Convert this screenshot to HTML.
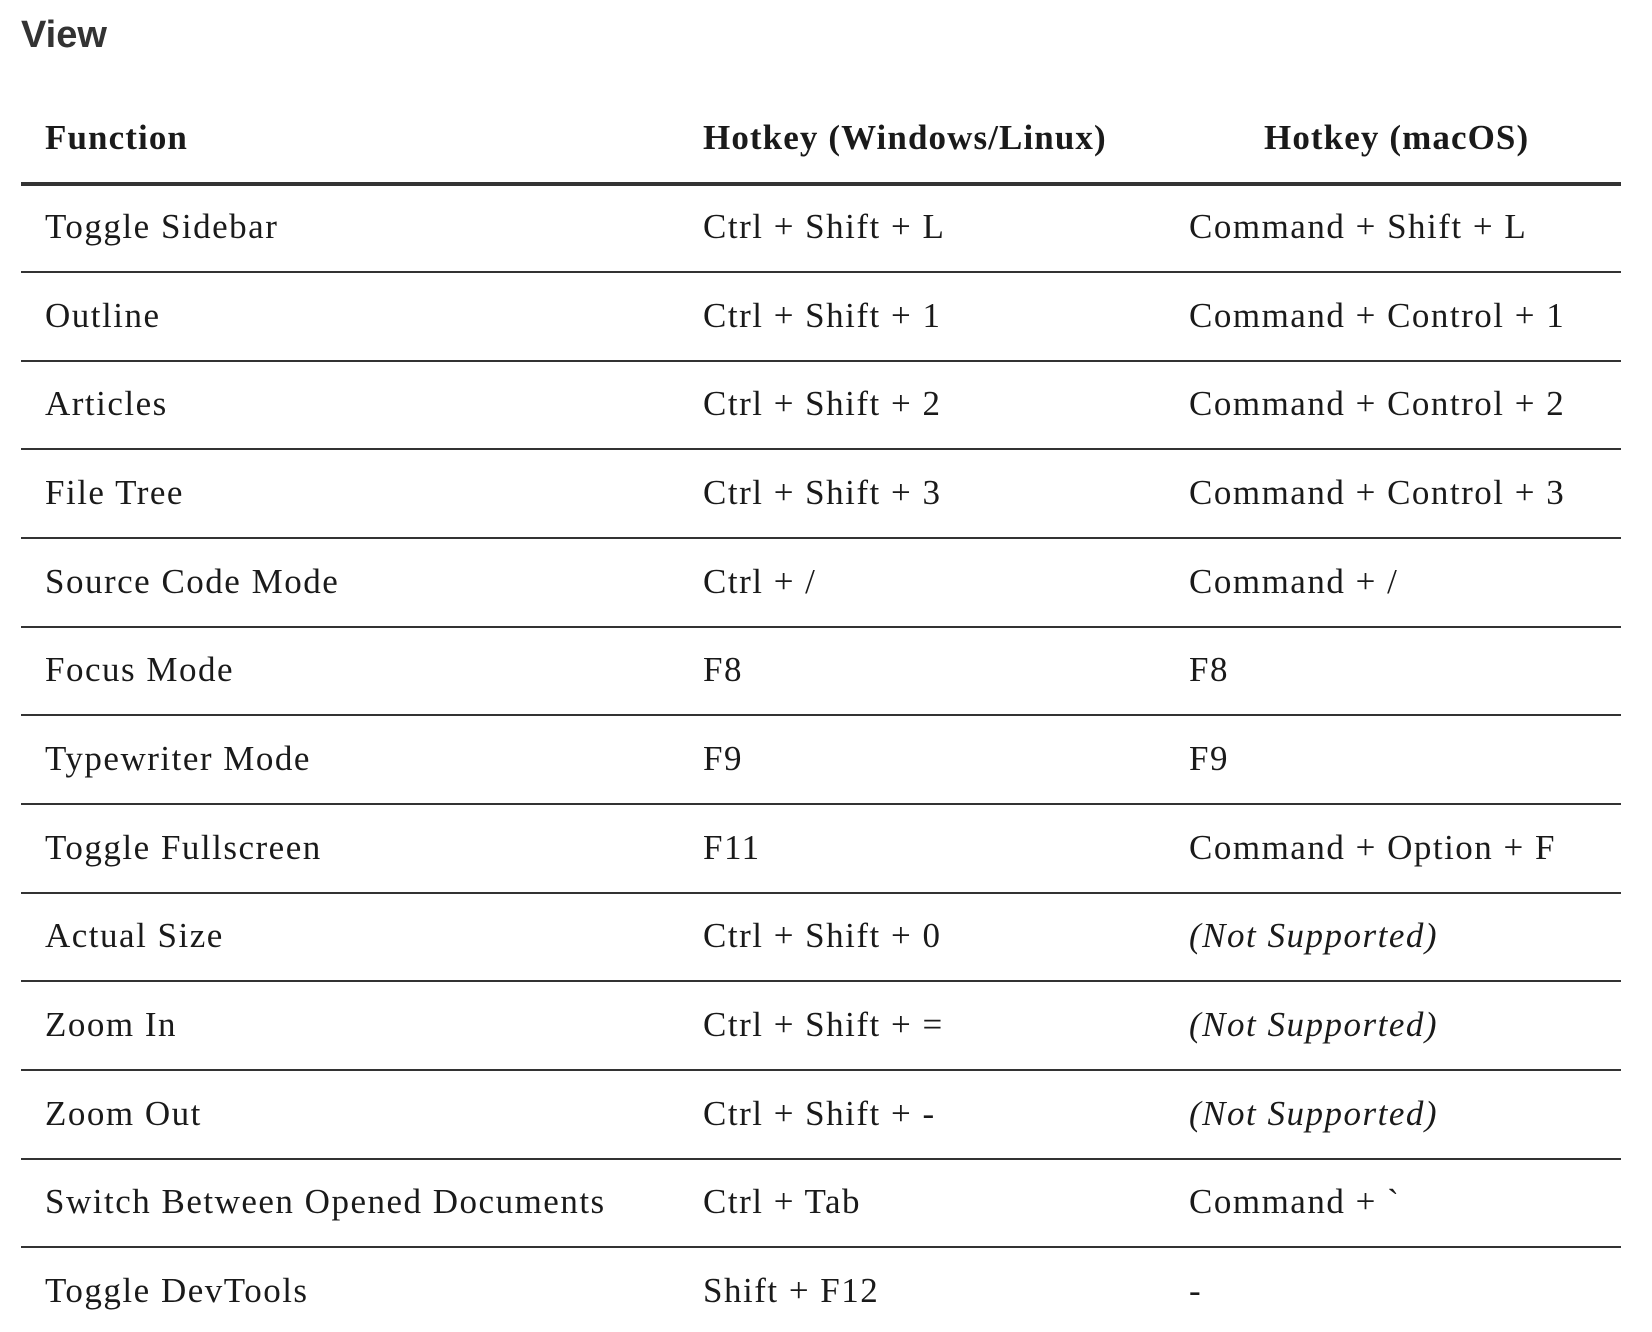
<!DOCTYPE html>
<html><head><meta charset="utf-8"><style>
html,body{margin:0;padding:0;background:#fff;}
body{width:1652px;height:1332px;position:relative;overflow:hidden;font-family:"Liberation Serif",serif;color:#1a1a1a;}
.t{position:absolute;left:21px;top:14px;font-family:"Liberation Sans",sans-serif;font-weight:bold;font-size:38px;color:#333;}
.ln{position:absolute;left:21px;width:1600px;height:2px;background:#333;}
.c{position:absolute;font-size:35px;letter-spacing:1.5px;white-space:nowrap;line-height:40px;}
.h{font-weight:bold;font-size:35px;letter-spacing:1.1px;}
.a{left:45px}.b{left:703px}.d{left:1189px}
i{font-style:italic;}
</style></head><body>
<div class="t">View</div>
<div class="c h a" style="top:118px">Function</div>
<div class="c h b" style="top:118px">Hotkey (Windows/Linux)</div>
<div class="c h" style="left:1264px;top:118px">Hotkey (macOS)</div>
<div class="ln" style="top:182px;height:4px"></div>

<div class="c a" style="top:207px">Toggle Sidebar</div><div class="c b" style="top:207px">Ctrl + Shift + L</div><div class="c d" style="top:207px">Command + Shift + L</div>
<div class="ln" style="top:271px"></div>
<div class="c a" style="top:296px">Outline</div><div class="c b" style="top:296px">Ctrl + Shift + 1</div><div class="c d" style="top:296px">Command + Control + 1</div>
<div class="ln" style="top:360px"></div>
<div class="c a" style="top:384px">Articles</div><div class="c b" style="top:384px">Ctrl + Shift + 2</div><div class="c d" style="top:384px">Command + Control + 2</div>
<div class="ln" style="top:448px"></div>
<div class="c a" style="top:473px">File Tree</div><div class="c b" style="top:473px">Ctrl + Shift + 3</div><div class="c d" style="top:473px">Command + Control + 3</div>
<div class="ln" style="top:537px"></div>
<div class="c a" style="top:562px">Source Code Mode</div><div class="c b" style="top:562px">Ctrl + /</div><div class="c d" style="top:562px">Command + /</div>
<div class="ln" style="top:626px"></div>
<div class="c a" style="top:650px">Focus Mode</div><div class="c b" style="top:650px">F8</div><div class="c d" style="top:650px">F8</div>
<div class="ln" style="top:714px"></div>
<div class="c a" style="top:739px">Typewriter Mode</div><div class="c b" style="top:739px">F9</div><div class="c d" style="top:739px">F9</div>
<div class="ln" style="top:803px"></div>
<div class="c a" style="top:828px">Toggle Fullscreen</div><div class="c b" style="top:828px">F11</div><div class="c d" style="top:828px">Command + Option + F</div>
<div class="ln" style="top:892px"></div>
<div class="c a" style="top:916px">Actual Size</div><div class="c b" style="top:916px">Ctrl + Shift + 0</div><div class="c d" style="top:916px"><i>(Not Supported)</i></div>
<div class="ln" style="top:980px"></div>
<div class="c a" style="top:1005px">Zoom In</div><div class="c b" style="top:1005px">Ctrl + Shift + =</div><div class="c d" style="top:1005px"><i>(Not Supported)</i></div>
<div class="ln" style="top:1069px"></div>
<div class="c a" style="top:1094px">Zoom Out</div><div class="c b" style="top:1094px">Ctrl + Shift + -</div><div class="c d" style="top:1094px"><i>(Not Supported)</i></div>
<div class="ln" style="top:1158px"></div>
<div class="c a" style="top:1182px">Switch Between Opened Documents</div><div class="c b" style="top:1182px">Ctrl + Tab</div><div class="c d" style="top:1182px">Command + `</div>
<div class="ln" style="top:1246px"></div>
<div class="c a" style="top:1271px">Toggle DevTools</div><div class="c b" style="top:1271px">Shift + F12</div><div class="c d" style="top:1271px">-</div>
</body></html>
